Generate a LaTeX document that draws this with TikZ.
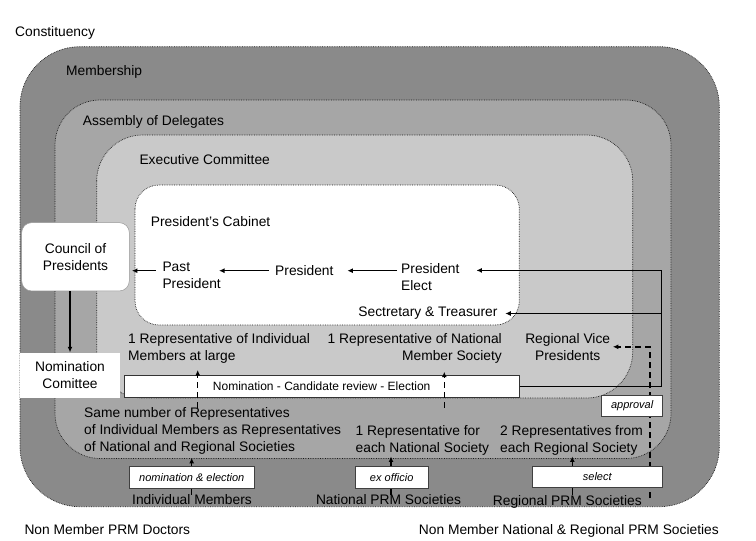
\documentclass[tikz,border=0pt]{standalone}
\usepackage{fontspec}
\setmainfont{Liberation Sans}
\usetikzlibrary{arrows.meta}
\definecolor{membc}{gray}{0.54}
\definecolor{asmc}{gray}{0.65}
\definecolor{exec}{gray}{0.79}
\begin{document}
\begin{tikzpicture}[x=1pt,y=-1pt,
  lbl/.style={inner sep=0pt, font=\fontsize{13.8}{17}\selectfont},
  region/.style={draw=black!90, densely dotted, line width=0.7pt},
  smallbox/.style={draw=black!75, fill=white, line width=0.6pt, inner sep=0pt, font=\fontsize{11}{13}\selectfont\itshape},
  arr/.style={line width=1.5pt, -{Latex[length=5.5pt,width=5pt]}},
  darr/.style={arr, dash pattern=on 6pt off 4pt},
]
\useasboundingbox (0,0) rectangle (756,541);
\fill[white] (0,0) rectangle (756,541);

% nested regions
\draw[region, fill=membc, rounded corners=60] (20,46.7) rectangle (719.3,506.7);
\draw[region, fill=asmc, rounded corners=45] (55,100) rectangle (671,458.5);
\draw[region, fill=exec, rounded corners=46] (96.7,135) rectangle (632.7,398);
\draw[region, fill=white, rounded corners=24] (135,185) rectangle (519.3,325);

% region labels
\node[lbl, anchor=west] (constit) at (15,32.5) {Constituency};
\node[lbl, anchor=west] (membl) at (66,71.5) {Membership};
\node[lbl, anchor=west] (asml) at (82.7,122) {Assembly of Delegates};
\node[lbl, anchor=west] (execl) at (139.3,160) {Executive Committee};
\node[lbl, anchor=west] (cabl) at (150.7,221.7) {President’s Cabinet};

% cabinet members
\node[lbl, anchor=west, align=left] (past) at (162.3,275.2) {Past\\President};
\node[lbl, anchor=west] (president) at (275,270.7) {President};
\node[lbl, anchor=west, align=left] (elect) at (401,276.8) {President\\Elect};
\node[lbl, anchor=east] (sect) at (497.7,313.5) {Sectretary \& Treasurer};

% executive committee members
\node[lbl, anchor=west, align=left] (indrep) at (128,348.3) {1 Representative of Individual\\Members at large};
\node[lbl, anchor=east, align=right] (natrep) at (502,348.3) {1 Representative of National\\Member Society};
\node[lbl, align=center] (rvp) at (567.7,346.8) {Regional Vice\\Presidents};

% assembly members
\node[lbl, anchor=west, align=left] (same) at (84,431.2) {Same number of Representatives\\of Individual Members as Representatives\\of National and Regional Societies};
\node[lbl, anchor=west, align=left] (nat1) at (355.5,440) {1 Representative for\\each National Society};
\node[lbl, anchor=west, align=left] (reg2) at (500,440) {2 Representatives from\\each Regional Society};

% membership
\node[lbl] (indm) at (192,500) {Individual Members};
\node[lbl] (nprm) at (388.5,500) {National PRM Societies};
\node[lbl] (rprm) at (567.3,501.5) {Regional PRM Societies};

% outside
\node[lbl, anchor=west] (nmdoc) at (24.3,529.3) {Non Member PRM Doctors};
\node[lbl, anchor=west] (nmsoc) at (418.7,530.5) {Non Member National \& Regional PRM Societies};

% x positions of vertical connectors
\coordinate (xi) at (191.7,0);
\coordinate (xid) at (197.7,0);
\coordinate (xn) at (391,0);
\coordinate (xnd) at (444.3,0);
\coordinate (xr) at (572.3,0);
\coordinate (dst) at (650,498);
\coordinate (ctop) at (661.7,270.4);

% connectors that run under the label boxes
\draw[arr] (indm.north -| xi) -- ([yshift=-3pt]same.south -| xi);
\draw[arr] (nprm.north -| xn) -- ([yshift=-1.3pt]nat1.south -| xn);
\draw[arr] (rprm.north -| xr) -- ([yshift=-1.3pt]reg2.south -| xr);
\draw[darr] (dst) |- ([xshift=2.5pt]rvp.east);

% boxes
\node[lbl, draw=black!40, line width=0.5pt, fill=white, rounded corners=10, minimum width=107.6pt, minimum height=68.3pt, align=center] (council) at (75.5,256.8) {Council of\\Presidents};
\node[lbl, fill=white, minimum width=100pt, minimum height=45pt, align=center] (ncom) at (70,375) {Nomination\\Comittee};
\node[draw=black!80, fill=white, line width=0.6pt, minimum width=395.3pt, minimum height=22.7pt, inner sep=0pt, font=\fontsize{12}{14}\selectfont] (nombar) at (321.7,386.3) {Nomination - Candidate review - Election};
\node[smallbox, minimum width=125pt, minimum height=21.6pt] (nomel) at (191.8,477.5) {nomination \& election};
\node[smallbox, minimum width=73.3pt, minimum height=21.6pt] (exoff) at (391.7,477.5) {ex officio};
\node[smallbox, minimum width=129.3pt, minimum height=21pt] (sel) at (597.3,476.5) {select};
\node[smallbox, minimum width=61pt, minimum height=21pt] (appr) at (632.2,405.5) {approval};

% connectors on top
\draw[darr] (same.north -| xid) -- ([yshift=-6.6pt]indrep.south -| xid);
\draw[darr] ([yshift=17pt]nat1.north -| xnd) -- ([yshift=-8.3pt]natrep.south -| xnd);
\draw[arr] (ncom.north |- council.south) -- (ncom.north);
\draw[arr] ([xshift=-6.6pt]past.west |- president.center) -- ([xshift=2.4pt]council.east |- president.center);
\draw[arr] ([xshift=-6pt]president.west) -- ([xshift=-2pt]past.east |- president.center);
\draw[arr] ([xshift=-4pt]elect.west |- president.center) -- ([xshift=13.7pt]president.east);
\draw[arr] (nombar.east) -| (ctop) -- ([xshift=16.7pt]elect.east |- ctop);
\draw[arr] (ctop |- sect) -- ([xshift=7.6pt]sect.east);
\end{tikzpicture}
\end{document}
